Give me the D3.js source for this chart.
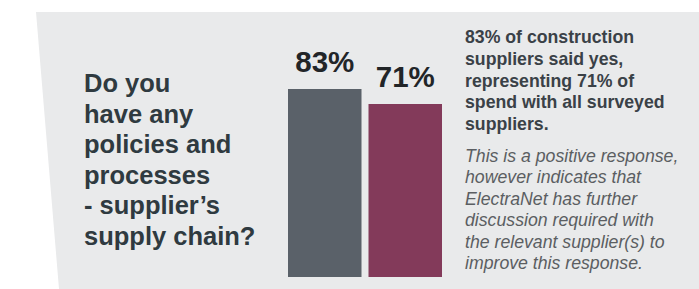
<!DOCTYPE html>
<html>
<head>
<meta charset="utf-8">
<script src="https://cdn.jsdelivr.net/npm/d3@7"></script>
<style>
  html, body { margin: 0; padding: 0; background: #fff; }
  svg { display: block; font-family: "Liberation Sans", Arial, sans-serif; }
</style>
</head>
<body>
<div class="chart"></div>
<script>
// Data
const categories = ['Construction suppliers', 'Spend with surveyed suppliers'];
const values = [83, 71];
const valueLabels = ['83%', '71%'];
const questionLines = ['Do you', 'have any', 'policies and', 'processes', '- supplier\u2019s', 'supply chain?'];
const summaryLines = ['83% of construction', 'suppliers said yes,', 'representing 71% of', 'spend with all surveyed', 'suppliers.'];
const noteLines = ['This is a positive response,', 'however indicates that', 'ElectraNet has further', 'discussion required with', 'the relevant supplier(s) to', 'improve this response.'];

function drawChart() {
    // Dimensions
    const dimensions = {
        width: 699,
        height: 289,
        panelTop: 12,
        panelLeftTop: 36,
        panelLeftBottom: 59,
        barsLeft: 288,
        barsRight: 442,
        baseline: 277
    };

    const colors = ['#5a6169', '#833a5a'];

    const svg = d3.select('.chart')
        .append('svg')
        .attr('width', dimensions.width)
        .attr('height', dimensions.height);

    // Background panel (slanted left edge)
    svg.append('path')
        .attr('d', `M${dimensions.panelLeftTop},${dimensions.panelTop}` +
            `L${dimensions.width},${dimensions.panelTop}` +
            `L${dimensions.width},${dimensions.height}` +
            `L${dimensions.panelLeftBottom},${dimensions.height}Z`)
        .attr('fill', '#e9eaeb');

    // Scales
    const xScale = d3.scaleBand()
        .domain(categories)
        .range([dimensions.barsLeft, dimensions.barsRight])
        .paddingInner(0.087)
        .paddingOuter(0);

    const yScale = d3.scaleLinear()
        .domain([0, 100])
        .range([192.75, 67.75]);

    const colorScale = d3.scaleOrdinal()
        .domain(categories)
        .range(colors);

    const bars = categories.map((c, i) => ({ category: c, value: values[i], label: valueLabels[i] }));

    // Bars
    svg.selectAll('rect.bar')
        .data(bars)
        .join('rect')
        .attr('class', 'bar')
        .attr('x', d => xScale(d.category))
        .attr('y', d => yScale(d.value))
        .attr('width', xScale.bandwidth())
        .attr('height', d => dimensions.baseline - yScale(d.value))
        .attr('fill', d => colorScale(d.category));

    // Value labels
    svg.selectAll('text.value')
        .data(bars)
        .join('text')
        .attr('class', 'value')
        .attr('x', d => xScale(d.category) + xScale.bandwidth() / 2)
        .attr('y', d => yScale(d.value) - 17)
        .attr('text-anchor', 'middle')
        .attr('font-size', 29.5)
        .attr('font-weight', 'bold')
        .attr('fill', '#222528')
        .text(d => d.label);

    // Question
    svg.append('text')
        .attr('x', 84)
        .attr('y', 92)
        .attr('font-size', 25.5)
        .attr('font-weight', 'bold')
        .attr('fill', '#2f3a40')
        .selectAll('tspan')
        .data(questionLines)
        .join('tspan')
        .attr('x', 84)
        .attr('dy', (d, i) => i === 0 ? 0 : 30.6)
        .text(d => d);

    // Summary
    svg.append('text')
        .attr('x', 465)
        .attr('y', 43.3)
        .attr('font-size', 17.7)
        .attr('font-weight', 'bold')
        .attr('fill', '#3a4147')
        .selectAll('tspan')
        .data(summaryLines)
        .join('tspan')
        .attr('x', 465)
        .attr('dy', (d, i) => i === 0 ? 0 : 21.7)
        .text(d => d);

    // Note
    svg.append('text')
        .attr('x', 465)
        .attr('y', 161.7)
        .attr('font-size', 17.7)
        .attr('font-style', 'italic')
        .attr('fill', '#5b5e62')
        .selectAll('tspan')
        .data(noteLines)
        .join('tspan')
        .attr('x', 465)
        .attr('dy', (d, i) => i === 0 ? 0 : 21.5)
        .text(d => d);
}

drawChart();
</script>
</body>
</html>
